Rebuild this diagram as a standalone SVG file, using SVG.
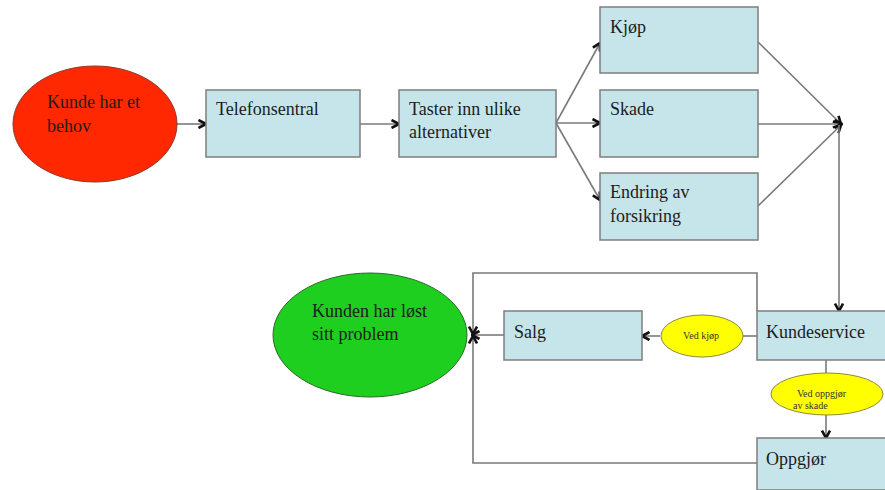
<svg xmlns="http://www.w3.org/2000/svg" width="885" height="490" viewBox="0 0 885 490">
  <defs>
    <marker id="arr" viewBox="0 0 10 10" refX="9" refY="5" markerWidth="10" markerHeight="10" orient="auto" markerUnits="userSpaceOnUse">
      <path d="M1.5,1 L9,5 L1.5,9" fill="none" stroke="#111" stroke-width="2.6"/>
    </marker>
  </defs>
  <style>
    .box { fill: #c5e5ea; stroke: #7d7d7d; stroke-width: 1.5; }
    .t { font-family: "Liberation Serif", "Times New Roman", serif; font-size: 18px; fill: #1c1c1c; }
    .s { font-family: "Liberation Serif", "Times New Roman", serif; font-size: 10px; fill: #333; }
    .c { fill: none; stroke: #7a7a7a; stroke-width: 1.6; }
    .a { marker-end: url(#arr); }
    .yel { fill: #ffff00; stroke: #8a8a40; stroke-width: 1; }
  </style>
  <rect width="885" height="490" fill="#ffffff"/>

  <g id="connectors">
    <line class="c a" x1="177" y1="124" x2="206" y2="124"/>
    <line class="c a" x1="360" y1="124" x2="399" y2="124"/>
    <line class="c a" x1="556" y1="123" x2="600" y2="43"/>
    <line class="c a" x1="556" y1="123" x2="600" y2="123"/>
    <line class="c a" x1="556" y1="123" x2="600" y2="200"/>
    <line class="c a" x1="758" y1="42" x2="841" y2="124"/>
    <line class="c a" x1="758" y1="124" x2="842" y2="124"/>
    <line class="c a" x1="758" y1="206" x2="841" y2="125"/>
    <line class="c a" x1="839" y1="125" x2="839" y2="311"/>
    <line class="c" x1="757" y1="336" x2="743" y2="336"/>
    <line class="c a" x1="660" y1="336" x2="642" y2="336"/>
    <line class="c" x1="826" y1="360" x2="826" y2="373"/>
    <line class="c a" x1="826" y1="415" x2="826" y2="438"/>
    <line class="c a" x1="504" y1="335" x2="472" y2="335"/>
    <polyline class="c a" points="757,311 757,273 473,273 473,334"/>
    <polyline class="c a" points="757,463 473,463 473,336"/>
  </g>

  <g id="kunde-behov">
    <ellipse cx="95" cy="124" rx="82" ry="58" fill="#ff2800" stroke="#8a3a2a" stroke-width="1"/>
    <text class="t" x="47" y="108">Kunde har et</text>
    <text class="t" x="47" y="132">behov</text>
  </g>

  <g id="telefonsentral">
    <rect class="box" x="206" y="90" width="154" height="67"/>
    <text class="t" x="216" y="115">Telefonsentral</text>
  </g>

  <g id="taster">
    <rect class="box" x="399" y="90" width="157" height="67"/>
    <text class="t" x="409" y="115">Taster inn ulike</text>
    <text class="t" x="409" y="138">alternativer</text>
  </g>

  <g id="kjop">
    <rect class="box" x="600" y="7" width="158" height="66"/>
    <text class="t" x="610" y="33">Kjøp</text>
  </g>

  <g id="skade">
    <rect class="box" x="600" y="90" width="158" height="67"/>
    <text class="t" x="610" y="115">Skade</text>
  </g>

  <g id="endring">
    <rect class="box" x="600" y="173" width="158" height="67"/>
    <text class="t" x="610" y="198">Endring av</text>
    <text class="t" x="610" y="222">forsikring</text>
  </g>

  <g id="kundeservice">
    <rect class="box" x="757" y="311" width="135" height="49"/>
    <text class="t" x="766" y="338">Kundeservice</text>
  </g>

  <g id="ved-kjop">
    <ellipse class="yel" cx="702" cy="336" rx="41" ry="21"/>
    <text class="s" x="701" y="339" text-anchor="middle">Ved kjøp</text>
  </g>

  <g id="salg">
    <rect class="box" x="504" y="311" width="138" height="49"/>
    <text class="t" x="514" y="338">Salg</text>
  </g>

  <g id="kunden-lost">
    <ellipse cx="370" cy="335" rx="97" ry="62" fill="#1fcf1f" stroke="#2a6a2a" stroke-width="1"/>
    <text class="t" x="312" y="317">Kunden har løst</text>
    <text class="t" x="312" y="340">sitt problem</text>
  </g>

  <g id="ved-oppgjor">
    <ellipse class="yel" cx="827" cy="394" rx="56" ry="21"/>
    <text class="s" x="797" y="397">Ved oppgjør</text>
    <text class="s" x="793" y="409">av skade</text>
  </g>

  <g id="oppgjor">
    <rect class="box" x="757" y="438" width="135" height="52"/>
    <text class="t" x="766" y="465">Oppgjør</text>
  </g>
</svg>
